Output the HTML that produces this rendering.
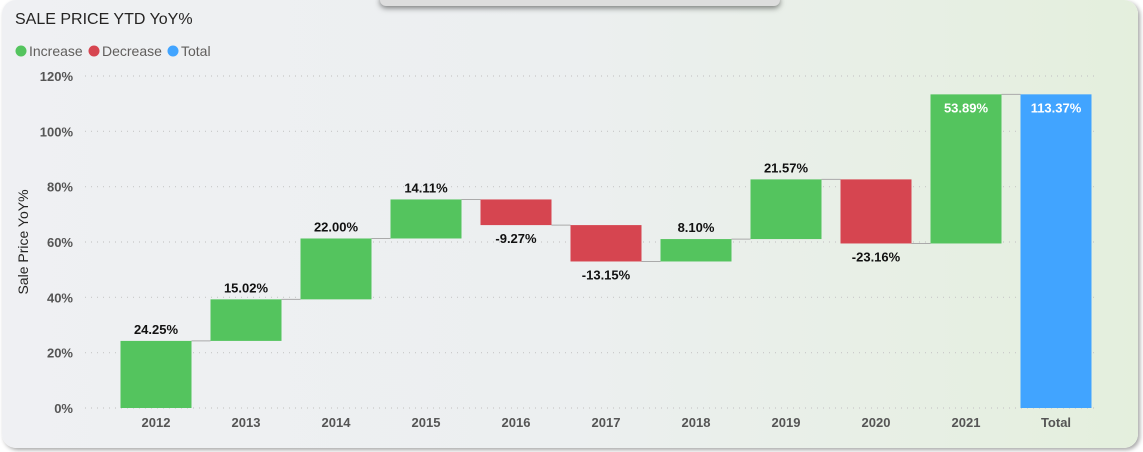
<!DOCTYPE html>
<html><head><meta charset="utf-8"><style>
body{margin:0;width:1143px;height:452px;overflow:hidden;background:#fff;font-family:"Liberation Sans",sans-serif}
#card{position:absolute;left:2px;top:0;width:1136px;height:448px;border-radius:14px;background:linear-gradient(90deg,#eff0f3 0%,#eceff0 50%,#e4efdd 100%);box-shadow:2px 2px 4px rgba(0,0,0,.35)}
#tab{position:absolute;left:380px;top:-6px;width:400px;height:12px;border-radius:6px;background:#ddd;box-shadow:0 2px 6px rgba(0,0,0,.5)}
</style></head><body>
<div id="card"></div>
<div id="tab"></div>
<svg id="c" width="1143" height="452" style="position:absolute;left:0;top:0">
<text x="15" y="24" font-size="16" fill="#252423">SALE PRICE YTD YoY%</text>
<g>
<circle cx="21" cy="51" r="5.5" fill="#54c45e"/><text x="29" y="56" font-size="14" fill="#605e5c">Increase</text>
<circle cx="94" cy="51" r="5.5" fill="#d64550"/><text x="102" y="56" font-size="14" fill="#605e5c">Decrease</text>
<circle cx="173" cy="51" r="5.5" fill="#41a4ff"/><text x="181" y="56" font-size="14" fill="#605e5c">Total</text>
</g>
<text transform="translate(28,242) rotate(-90)" text-anchor="middle" font-size="14" fill="#252423">Sale Price YoY%</text>
<g id="grid"></g><g id="marks"></g>
</svg>
<script>
const categories=["2012","2013","2014","2015","2016","2017","2018","2019","2020","2021"];
const changes=[24.25,15.02,22.00,14.11,-9.27,-13.15,8.10,21.57,-23.16,53.89];
const totalLabel="Total";
const totalValue=113.37;
const yTicks=[0,20,40,60,80,100,120];
const ns="http://www.w3.org/2000/svg";
const y=v=>408-v*(332/120);
const xc=i=>156+i*90;
const bw=71;
function mk(tag,attrs,parent,text){const e=document.createElementNS(ns,tag);for(const k in attrs)e.setAttribute(k,attrs[k]);if(text!==undefined)e.textContent=text;parent.appendChild(e);return e;}
const grid=document.getElementById('grid'),marks=document.getElementById('marks');
yTicks.forEach(t=>{
 const l=mk('line',{x1:85,x2:1095,y1:y(t),y2:y(t),stroke:'#c8c8c8','stroke-dasharray':'1 5','stroke-width':1.2},grid);
 
 
 const tx=mk('text',{x:73,y:y(t)+5,'text-anchor':'end','font-size':13,'font-weight':'bold',fill:'#555'},grid,t+'%');
 
 
});
let cum=0;
const allCats=categories.concat([totalLabel]);
allCats.forEach((c,i)=>{
 let start,end,val,col;
 if(i<categories.length){val=changes[i];start=cum;end=cum+val;cum=end;col=val>=0?'#54c45e':'#d64550';}
 else{val=totalValue;start=0;end=totalValue;col='#41a4ff';}
 const top=Math.max(start,end),bot=Math.min(start,end);
 const r=mk('rect',{x:xc(i)-bw/2,y:y(top),width:bw,height:y(bot)-y(top),fill:col},marks);
 
 
 if(i<allCats.length-1){
  const ln=mk('line',{x1:xc(i)+bw/2,x2:xc(i+1)-bw/2,y1:y(end),y2:y(end),stroke:'#aaa','stroke-width':1},marks);
  
  
 }
 const txt=(val<0?'-':'')+Math.abs(val).toFixed(2)+'%';
 let ly,fill='#111';
 if(top>100){ly=y(top)+18;fill='#fff';}
 else if(val>=0){ly=y(top)-7;}
 else{ly=y(bot)+18;}
 const lb=mk('text',{x:xc(i),y:ly,'text-anchor':'middle','font-size':13,'font-weight':'bold',fill:fill},marks,txt);
 
 
 const xl=mk('text',{x:xc(i),y:427,'text-anchor':'middle','font-size':13,'font-weight':'bold',fill:'#555'},marks,c);
 
 
});
</script>
</body></html>
